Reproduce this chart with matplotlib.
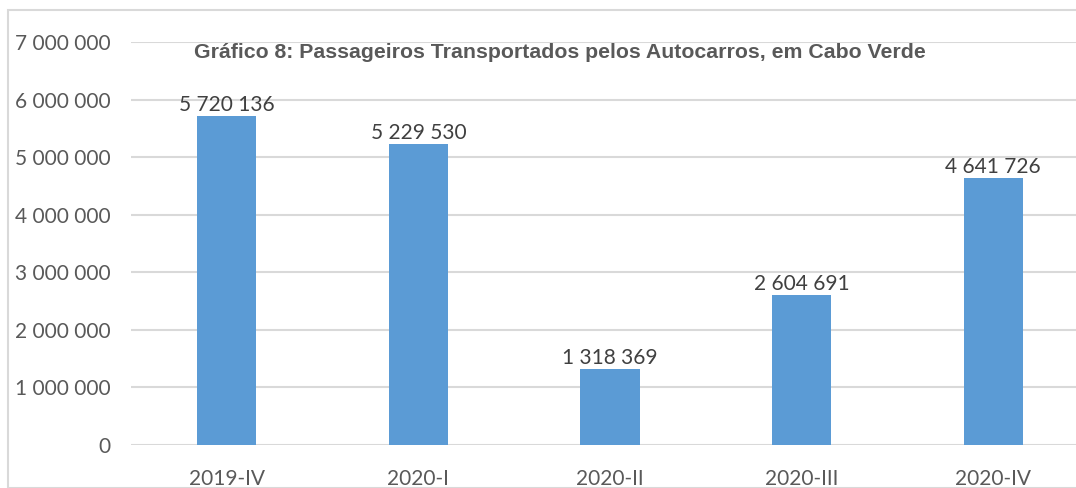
import matplotlib.pyplot as plt
from matplotlib.patches import Rectangle

# data
periodos = ['2019-IV', '2020-I', '2020-II', '2020-III', '2020-IV']
passageiros = [5720136, 5229530, 1318369, 2604691, 4641726]
titulo = 'Gráfico 8: Passageiros Transportados pelos Autocarros, em Cabo Verde'

W, H = 1076, 488
fig = plt.figure(figsize=(W / 100, H / 100), dpi=100)

# frame round the chart
fig.patches.append(Rectangle((8 / W, 0), 1.2, 1 - 10 / H, transform=fig.transFigure,
                             fill=False, edgecolor='#D9D9D9', linewidth=1.5))

# plot area (runs past the right edge, as in the reference)
ax = fig.add_axes([131 / W, 1 - 445 / H, 958 / W, (445 - 42) / H])

x = range(len(periodos))
bars = ax.bar(x, passageiros, width=0.31, color='#5B9BD5', zorder=3)

def fmt(v):
    return f'{v:,}'.replace(',', ' ')

for b, v in zip(bars, passageiros):
    ax.text(b.get_x() + b.get_width() / 2, v + 20000, fmt(v), ha='center', va='bottom',
            fontsize=15, color='#404040', family='Lato')

ax.set_xlim(-0.5, 4.5)
ax.set_ylim(0, 7000000)
yt = list(range(0, 7000001, 1000000))
ax.set_yticks(yt)
ax.set_yticklabels([fmt(v) for v in yt])
ax.set_xticks(list(x))
ax.set_xticklabels(periodos)
for lab in ax.get_xticklabels() + ax.get_yticklabels():
    lab.set_family('Lato')
    lab.set_fontsize(15)
    lab.set_color('#595959')
ax.tick_params(axis='y', length=0, pad=15)
ax.tick_params(axis='x', length=0, pad=17)

ax.grid(axis='y', color='#D9D9D9', linewidth=1.5, zorder=0)
for s in ax.spines.values():
    s.set_visible(False)

fig.text(560 / W, 1 - 52 / H, titulo, ha='center', va='center', fontsize=15.3,
         fontweight='bold', color='#595959', family='Liberation Sans')

fig.savefig('out.png', dpi=100)
